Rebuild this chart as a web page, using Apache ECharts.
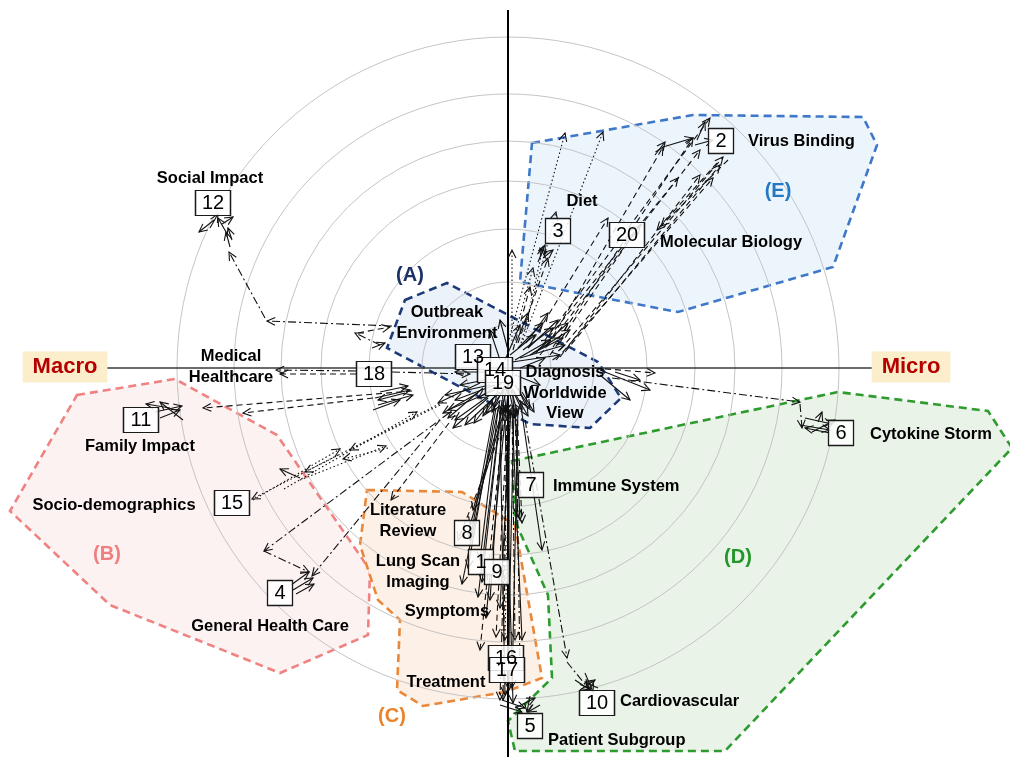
<!DOCTYPE html>
<html><head><meta charset="utf-8">
<script src="https://cdn.jsdelivr.net/npm/echarts@6/dist/echarts.min.js"></script>
<style>html,body{margin:0;padding:0;background:#fff}#c{width:1010px;height:757px}</style>
</head><body><div id="c"></div>
<script>
// ---- Data (Macro <-> Micro plane, centre = origin) ----
const circleRadii = [43, 86, 139, 187, 227, 274, 331];
const hAxisLine = [[-403, 0], [364, 0]];
const vAxisLine = [[0, 358], [0, -389]];

const regionNames = ['(A)', '(B)', '(C)', '(D)', '(E)'];
const regionA = [[-103,68],[-61,85],[90,6],[113,-30],[82,-60],[22,-56],[-121,20]];
const regionB = [[-431,-27],[-333,-11],[-231,-67],[-138,-202],[-140,-267],[-228,-305],[-398,-237],[-498,-143]];
const regionC = [[-141,-122],[-46,-124],[7,-157],[34,-310],[-3,-324],[-85,-338],[-111,-322],[-108,-252],[-130,-232],[-148,-177]];
const regionD = [[4,-93],[330,-24],[480,-43],[504,-80],[217,-383],[7,-383],[0,-353],[44,-310],[40,-227],[7,-153]];
const regionE = [[24,225],[185,253],[355,251],[369,223],[325,101],[170,56],[12,86]];
const regionLabelX = [-98, -401, -116, 230, 270];
const regionLabelY = [93, -186, -348, -189, 177];

const nodeIds = ['12','2','3','20','13','14','19','18','11','15','4','8','1','9','16','17','5','10','7','6'];
const nodeX = [-295,213,50,119,-35,-13,-5,-134,-367,-276,-228,-41,-27,-11,-2,-1,22,89,23,333];
const nodeY = [165,227,137,133,11,-2,-15,-6,-52,-135,-225,-165,-194,-204,-290,-302,-358,-335,-117,-65];

const topicNames = ['Social Impact','Virus Binding','Diet','Molecular Biology','Outbreak\nEnvironment','Diagnosis\nWorldwide\nView','Medical\nHealthcare','Family Impact','Socio-demographics','General Health Care','Literature\nReview','Lung Scan\nImaging','Symptoms','Treatment','Immune System','Cytokine Storm','Cardiovascular','Patient Subgroup'];
const topicX = [-298,240,74,152,-61,57,-277,-368,-394,-238,-100,-90,-61,-62,45,362,112,40];
const topicY = [190,227,167,126,45,-25,1,-78,-137,-258,-153,-204,-243,-314,-118,-66,-333,-372];
const topicAnchor = ['c','l','c','l','c','c','c','c','c','c','c','c','c','c','l','l','l','l'];

const axisEnds = ['Macro', 'Micro'];
const axisEndX = [-443, 403];
const axisEndY = [1, 1];

// arrows: [x1, y1, x2, y2]
const dashDotArrows = [
  [-116,42,-241,47],[-243,50,-279,116],[-128,23,-153,35],[-152,-3,-232,-2],[-116,-4,-38,-6],
  [-59,-45,-244,-183],[-244,-183,-199,-204],[-68,-52,-196,-208],[4,-37,7,-272],[17,-52,59,-290],
  [59,-294,80,-320],[104,-10,292,-34],[292,-36,294,-60],[0,-42,-8,-332],[8,-40,12,-300]
];
const dashedArrows = [
  [-150,35,-118,41],[-152,-6,-228,-6],[-96,-23,-305,-40],[-135,-30,-265,-45],[-53,-47,-117,-132],
  [-3,-37,-28,-282],[0,-37,-12,-269],[2,-42,-50,-172],[7,-42,10,-149],[9,-42,14,-155],[-1,-47,-5,-332],
  [5,18,22,81],[40,23,155,221],[45,21,185,230],[37,28,202,250],[52,18,215,211],[57,16,212,203],
  [32,13,192,218],[209,205,149,138],[220,208,153,142],[42,13,132,143],[52,11,192,193],[87,0,147,-5],
  [28,15,170,190],[48,8,205,190],[20,20,100,150],[10,25,40,110]
];
const dottedArrows = [
  [-1,21,57,235],[15,28,95,236],[12,21,48,156],[4,23,4,118],[-65,-34,-203,-104],[-224,-121,-91,-44],
  [-208,-112,-122,-78],[-120,-80,-165,-91],[-255,-132,-168,-81],[-170,-87,-256,-131],[-68,-37,-158,-82],
  [2,-37,-3,-272],[17,38,35,121],[6,30,25,100]
];
const solidArrows = [
  [-278,121,-282,136],[-282,136,-290,150],[-294,148,-309,136],[-286,144,-275,151],[-298,140,-290,154],[-276,128,-280,140],
  [-136,20,-123,25],[-133,-30,-98,-22],[-130,-37,-95,-27],[-135,-42,-108,-32],[-128,-24,-100,-18],[-103,-25,-130,-32],
  [-325,-52,-348,-34],[-338,-40,-362,-36],[-353,-44,-326,-38],[-348,-50,-328,-42],
  [-208,-110,-228,-101],
  [-215,-222,-195,-210],[-217,-217,-199,-204],[-212,-226,-194,-216],
  [-8,-32,-46,-216],[-6,-32,-30,-229],[-4,-37,-35,-142],[-2,-37,-38,-157],[7,-37,12,-152],[12,-32,34,-182],
  [-3,-52,5,-335],[-8,-52,-3,-327],[-10,-42,-28,-192],[-5,-42,-18,-232],[1,-42,1,-322],[-13,-37,-38,-172],[4,-42,14,-272],
  [-12,-40,-40,-200],[-2,-40,-22,-250],[6,-40,0,-300],[10,-40,4,-320],[-7,-40,-26,-214],[3,-40,-8,-240],
  [-6,-332,17,-340],[22,-328,19,-344],[32,-337,20,-344],[7,-340,27,-330],[-8,-337,14,-344],
  [67,-312,82,-322],[77,-305,85,-324],[90,-320,77,-314],[72,-322,87,-312],
  [292,-57,322,-62],[297,-50,324,-56],[322,-65,297,-60],[304,-64,327,-52],[310,-54,314,-44],
  [92,-2,142,-22],[92,-7,122,-32],[107,-4,132,-12],
  [155,221,185,230],[187,223,205,228],[189,228,197,246],[147,213,157,226],
  [30,106,37,123],[35,110,45,118],[40,106,32,120],
  [-8,8,-18,38],[-3,8,12,43],[2,13,27,33],[7,8,42,28],[12,10,57,23],[4,6,52,13],[0,18,-8,48],[22,13,62,38],
  [10,20,35,45],[15,18,45,40],[20,20,50,48],[25,15,55,30],[30,18,60,45],[18,25,40,55],[8,25,20,55],
  [-13,-17,-53,-32],[-13,-22,-60,-42],[-18,-27,-53,-52],[-18,-17,-63,-27],[-8,-24,-43,-57],[-23,-12,-48,-17],[-20,-4,-53,-4],
  [-25,-20,-60,-50],[-30,-25,-65,-45],[-20,-30,-55,-60],[-28,-15,-70,-35],
  [0,-17,-8,-47],[0,-17,7,-50],[-3,-17,-16,-44],[2,-17,14,-42],[-5,-20,0,-52],[7,-17,22,-40],
  [-10,-20,-14,-40],[-6,-22,-4,-45],[3,-22,10,-46],[10,-20,18,-38],[-12,-26,-25,-48],[14,-24,26,-44],
  [-15,-30,-34,-55],[0,-25,-2,-44],[5,-28,6,-50],
  [12,0,37,10],[7,-7,32,-17],[-2,-20,-22,-45],[5,-22,20,-48],[-6,-15,-30,-30]
];

// ---- styles ----
const regionPolys = [regionA, regionB, regionC, regionD, regionE];
const regionFill = ['#ebf2fa','#fdf2f2','#fdf0e6','#e9f3e8','#edf5fc'];
const regionStroke = ['#1c3a78','#f08282','#ea883a','#2e9b2e','#3f78c8'];
const regionText = ['#1c3068','#f07f7f','#e8842c','#22962a','#2378c4'];

const chart = echarts.init(document.getElementById('c'), null, {renderer: 'canvas'});

function polyItem(params, api) {
  const i = api.value(2);
  const pts = regionPolys[i].map(v => api.coord(v));
  return {type: 'polygon', shape: {points: pts},
    style: {fill: regionFill[i], stroke: regionStroke[i], lineWidth: 2.6, lineDash: [8, 5]}};
}
function circleItem(params, api) {
  const c = api.coord([api.value(0), api.value(1)]);
  const r = api.size([api.value(2), 0])[0];
  return {type: 'circle', shape: {cx: c[0], cy: c[1], r: r}, style: {fill: 'none', stroke: '#c4c4c4', lineWidth: 1}};
}
function arrowRenderer(dash) {
  return function (params, api) {
    const p1 = api.coord([api.value(0), api.value(1)]);
    const p2 = api.coord([api.value(2), api.value(3)]);
    const ang = Math.atan2(p2[1] - p1[1], p2[0] - p1[0]);
    const L = 9, a = 0.45;
    const h1 = [p2[0] - L * Math.cos(ang - a), p2[1] - L * Math.sin(ang - a)];
    const h2 = [p2[0] - L * Math.cos(ang + a), p2[1] - L * Math.sin(ang + a)];
    return {type: 'group', children: [
      {type: 'line', shape: {x1: p1[0], y1: p1[1], x2: p2[0], y2: p2[1]},
       style: {stroke: '#111', lineWidth: 1.1, lineDash: dash}},
      {type: 'polyline', shape: {points: [h1, p2, h2]},
       style: {stroke: '#111', lineWidth: 1.1, fill: 'none'}}
    ]};
  };
}
function arrowSeries(arr, dash, z) {
  return {type: 'custom', coordinateSystem: 'cartesian2d', renderItem: arrowRenderer(dash),
    data: arr, encode: {x: [0, 2], y: [1, 3]}, clip: false, z: z, silent: true};
}
const labelFont = 'Liberation Sans, Arial, sans-serif';
function textSeries(data, labelCfg, z) {
  return {type: 'scatter', z: z, silent: true, symbolSize: 0, itemStyle: {color: '#000', opacity: 1},
    data: data,
    label: Object.assign({show: true, position: 'inside', formatter: '{b}', textBorderWidth: 0,
      fontFamily: labelFont}, labelCfg)};
}

const option = {
  animation: false,
  grid: {left: 0, right: 0, top: 0, bottom: 0, containLabel: false},
  xAxis: {type: 'value', min: -508, max: 502, show: false},
  yAxis: {type: 'value', min: -389, max: 368, show: false},
  series: [
    {type: 'custom', coordinateSystem: 'cartesian2d', renderItem: polyItem, z: 1, silent: true, clip: false,
     data: regionPolys.map((p, i) => [p[0][0], p[0][1], i])},
    {type: 'custom', coordinateSystem: 'cartesian2d', renderItem: circleItem, z: 2, silent: true, clip: false,
     data: circleRadii.map(r => [0, 0, r])},
    {type: 'line', data: hAxisLine, symbol: 'none', lineStyle: {color: '#3a3a3a', width: 1.6}, z: 3, silent: true},
    {type: 'line', data: vAxisLine, symbol: 'none', lineStyle: {color: '#000', width: 2}, z: 3, silent: true},
    arrowSeries(dashDotArrows, [8, 3, 2, 3], 4),
    arrowSeries(dashedArrows, [6, 4], 4),
    arrowSeries(dottedArrows, [1.5, 2.5], 4),
    arrowSeries(solidArrows, null, 4),
    {type: 'scatter', z: 6, silent: true,
     data: nodeIds.map((id, i) => ({name: id, value: [nodeX[i], nodeY[i]],
       symbolSize: id.length > 1 ? [35, 25] : [25, 25]})),
     symbol: 'rect',
     itemStyle: {color: 'rgba(255,255,255,0.85)', borderColor: '#1a1a1a', borderWidth: 1.3, opacity: 1},
     label: {show: true, position: 'inside', formatter: '{b}', color: '#000', fontSize: 20, textBorderWidth: 0,
       fontFamily: labelFont}},
    textSeries(topicNames.map((t, i) => ({name: t, value: [topicX[i], topicY[i]],
       label: {align: topicAnchor[i] === 'l' ? 'left' : 'center'}})),
       {color: '#000', fontSize: 16.5, fontWeight: 'bold', lineHeight: 20.5}, 7),
    textSeries(regionNames.map((t, i) => ({name: t, value: [regionLabelX[i], regionLabelY[i]],
       label: {color: regionText[i]}})),
       {fontSize: 20, fontWeight: 'bold'}, 7),
    textSeries(axisEnds.map((t, i) => ({name: t, value: [axisEndX[i], axisEndY[i]]})),
       {color: '#b50000', fontSize: 22, fontWeight: 'bold', backgroundColor: '#fdeecb',
        padding: [5, 10, 4, 10]}, 7)
  ]
};
chart.setOption(option);
</script></body></html>
